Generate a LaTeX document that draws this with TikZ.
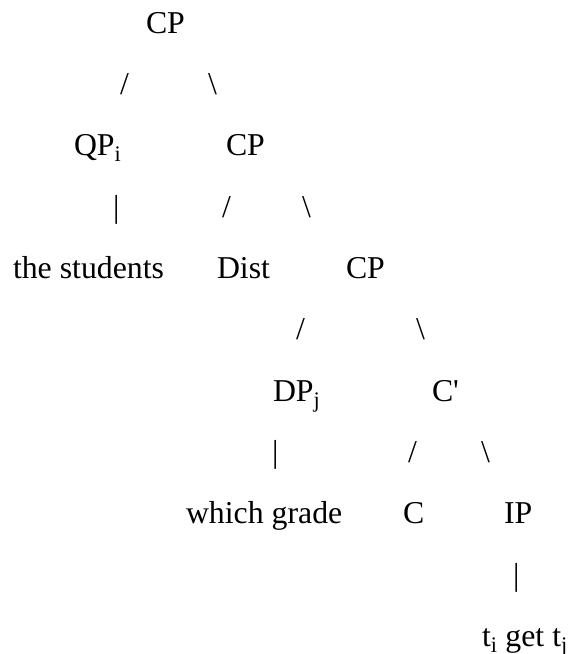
\documentclass[tikz,border=0pt]{standalone}
\usepackage{fontspec}
\setmainfont{Liberation Serif}
\newcommand{\straightq}{\XeTeXglyph\XeTeXcharglyph"27\relax}
\begin{document}
\begin{tikzpicture}[x=1pt,y=1pt,
  lbl/.style={anchor=base west,inner sep=0pt,outer sep=0pt,font=\fontsize{31.8}{36}\selectfont}]
\useasboundingbox (0,0) rectangle (568,-654);
% row 1
\node[lbl] (cp1) at (146,-33.3) {CP};
% row 2
\node[lbl] (s1) at (120,-94) {/};
\node[lbl] (b1) at (208,-94) {\textbackslash};
% row 3
\node[lbl] (qp) at (74,-155.5) {QP\textsubscript{i}};
\node[lbl] (cp2) at (226,-155.5) {CP};
% row 4
\node[lbl] (v1) at (113,-217) {|};
\node[lbl] (s2) at (222,-217) {/};
\node[lbl] (b2) at (302,-217) {\textbackslash};
% row 5
\node[lbl] (stud) at (13,-278.5) {the students};
\node[lbl] (dist) at (217,-278.5) {Dist};
\node[lbl] (cp3) at (346,-278.5) {CP};
% row 6
\node[lbl] (s3) at (296,-339.5) {/};
\node[lbl] (b3) at (416,-339.5) {\textbackslash};
% row 7
\node[lbl] (dp) at (273,-401) {DP\textsubscript{j}};
\node[lbl] (cbar) at (432,-401) {C\straightq};
% row 8
\node[lbl] (v2) at (272,-462) {|};
\node[lbl] (s4) at (408,-462) {/};
\node[lbl] (b4) at (481,-462) {\textbackslash};
% row 9
\node[lbl] (wg) at (186,-523.5) {which grade};
\node[lbl] (c) at (403,-523.5) {C};
\node[lbl] (ip) at (504,-523.5) {IP};
% row 10
\node[lbl] (v3) at (513,-585) {|};
% row 11
\node[lbl] (tt) at (482,-646) {t\textsubscript{i} get t\textsubscript{j}};
\end{tikzpicture}
\end{document}
